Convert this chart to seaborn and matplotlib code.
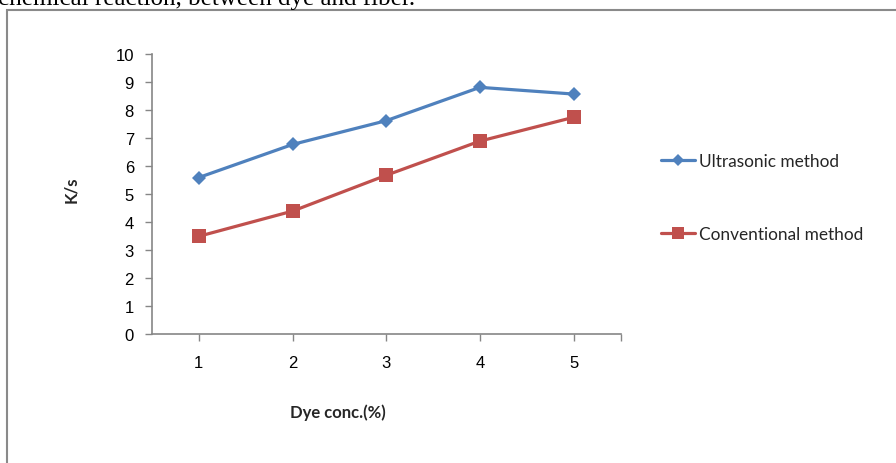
import matplotlib
matplotlib.use("Agg")
import matplotlib.pyplot as plt
import seaborn as sns
import pandas as pd
from matplotlib.patches import Rectangle
from matplotlib.lines import Line2D

dye_conc = [1, 2, 3, 4, 5]
ultrasonic = [5.6, 6.78, 7.63, 8.82, 8.58]
conventional = [3.5, 4.4, 5.68, 6.9, 7.75]
series_names = ["Ultrasonic method", "Conventional method"]
y_ticks = [0, 1, 2, 3, 4, 5, 6, 7, 8, 9, 10]

df = pd.DataFrame({
    "x": dye_conc * 2,
    "y": ultrasonic + conventional,
    "series": [series_names[0]] * 5 + [series_names[1]] * 5,
})

sns.set_theme(style="white")
plt.rcParams["font.family"] = ["Liberation Sans", "DejaVu Sans"]

fig = plt.figure(figsize=(8.96, 4.64), dpi=100)
ax = fig.add_axes([152 / 896, 1 - 335.3 / 464, (620.5 - 152) / 896, (335.3 - 55.3) / 464])

colors = {series_names[0]: "#4F81BD", series_names[1]: "#C0504D"}
markers = {series_names[0]: "D", series_names[1]: "s"}
sizes = {series_names[0]: 7, series_names[1]: 10}
for name in series_names:
    sub = df[df["series"] == name]
    sns.lineplot(data=sub, x="x", y="y", ax=ax, color=colors[name], marker=markers[name],
                 markersize=sizes[name], markeredgewidth=0, linewidth=2.3, legend=False)

ax.set_xlim(0.5, 5.5)
ax.set_ylim(0, 10)
ax.set_xticks(dye_conc)
ax.set_xticks([5.5], minor=True)
ax.set_yticks(y_ticks)
ax.tick_params(axis="x", which="both", direction="out", length=5, width=1, color="#868686",
               bottom=True, pad=10, labelsize=12, labelcolor="black")
ax.tick_params(axis="y", direction="out", length=5, width=1, color="#868686",
               left=True, pad=8, labelsize=12, labelcolor="black")
for s in ["top", "right"]:
    ax.spines[s].set_visible(False)
for s in ["left", "bottom"]:
    ax.spines[s].set_color("#868686")
    ax.spines[s].set_linewidth(1.2)

ax.set_xlabel("Dye conc.(%)", fontsize=12, fontweight="bold", family=["Lato", "DejaVu Sans"])
ax.xaxis.set_label_coords((338 - 152) / (620.5 - 152), -(404 - 335.3) / 280)
ax.set_ylabel("K/s", fontsize=12, fontweight="bold", family=["Lato", "DejaVu Sans"])
ax.yaxis.set_label_coords(-(152 - 79) / (620.5 - 152), (335.3 - 190) / 280)

handles = [Line2D([], [], color=colors[n], marker=markers[n], markersize=sizes[n] * 0.85,
                  markeredgewidth=0, linewidth=2.3) for n in series_names]
fig.legend(handles, series_names, loc="upper left", bbox_to_anchor=(645 / 896, 1 - 139 / 464),
           frameon=False, labelspacing=3.3, handlelength=2.0, handletextpad=0.25,
           prop={"family": ["Lato", "DejaVu Sans"], "size": 12.4})

fig.patches.append(Rectangle((7 / 896, -0.1), 1.2, 1 - 11 / 464 + 0.1, transform=fig.transFigure,
                             fill=False, edgecolor="#8a8a8a", linewidth=1.5))
fig.text(-2 / 896, 1 - 5 / 464, "chemical reaction, between dye and fiber.", ha="left", va="baseline",
         fontsize=18, family=["Liberation Serif", "DejaVu Serif"], color="black")

fig.savefig("out.png", dpi=100)
